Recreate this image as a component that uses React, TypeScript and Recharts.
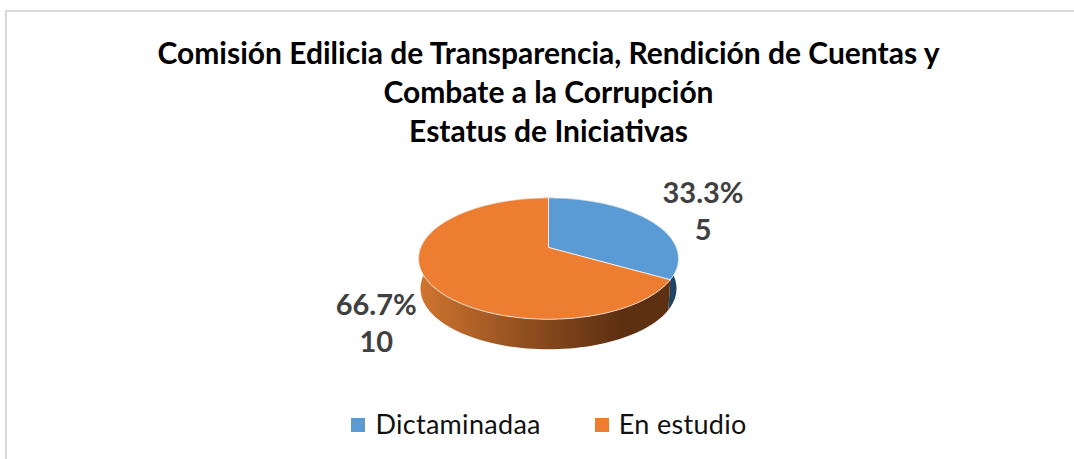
import { PieChart, Pie, Legend } from "recharts";

const categories = ["Dictaminadaa", "En estudio"];
const values = [5, 10];
const percentLabels = ["33.3%", "66.7%"];
const topColors = ["#5B9BD5", "#ED7D31"];
const wallFills = ["#1F4464", "url(#orangeWall)"];
const labelOffsets = [
    { dx: 0, dy: 5 },
    { dx: 35, dy: 22 },
];

const titleLines = [
    "Comisión Edilicia de Transparencia, Rendición de Cuentas y",
    "Combate a la Corrupción",
    "Estatus de Iniciativas",
];

const tableData = categories.map((name, i) => ({
    name,
    value: values[i],
    percentLabel: percentLabels[i],
    fill: topColors[i],
    wallFill: wallFills[i],
    labelOffset: labelOffsets[i],
}));

const FONT = "Lato, sans-serif";
const RADIAN = Math.PI / 180;
const WALL_DEPTH = 30;
const TILT = 58.7;
const PERSPECTIVE = 0.182;

// tilted disc: recharts angle -> screen point, apex stays at cx,cy
function project(cx: number, cy: number, radius: number, angle: number, factor = 1) {
    const u = Math.cos(angle * RADIAN) * factor;
    const v = -Math.sin(angle * RADIAN) * factor;
    const d = 1 - PERSPECTIVE * v;
    return { x: cx + (radius * u) / d, y: cy + (TILT * v) / d };
}

function edgePoints(cx: number, cy: number, radius: number, start: number, end: number) {
    const steps = Math.max(2, Math.ceil(Math.abs(end - start) / 2));
    const pts = [];
    for (let i = 0; i <= steps; i++) {
        pts.push(project(cx, cy, radius, start + ((end - start) * i) / steps));
    }
    return pts;
}

function TopSlice(props: any) {
    const { cx, cy, outerRadius, startAngle, endAngle, fill } = props;
    const pts = edgePoints(cx, cy, outerRadius, startAngle, endAngle);
    const d = `M${cx},${cy} ` + pts.map((p) => `L${p.x},${p.y}`).join(" ") + " Z";
    return <path d={d} fill={fill} stroke="#ffffff" strokeOpacity={0.7} strokeWidth={1} strokeLinejoin="round" />;
}

function WallSlice(props: any) {
    const { cx, cy, outerRadius, startAngle, endAngle, payload } = props;
    const pts = edgePoints(cx, cy, outerRadius, startAngle, endAngle);
    const lower = pts
        .slice()
        .reverse()
        .map((p) => ({ x: cx + (p.x - cx) * 0.985, y: p.y + WALL_DEPTH }));
    const d = "M" + pts.concat(lower).map((p) => `${p.x},${p.y}`).join(" L") + " Z";
    return <path d={d} fill={payload.wallFill} />;
}

function SliceLabel(props: any) {
    const { cx, cy, outerRadius, midAngle, payload } = props;
    const p = project(cx, cy, outerRadius, midAngle, 1.6);
    const x = p.x + payload.labelOffset.dx;
    const y = p.y + payload.labelOffset.dy;
    return (
        <text x={x} textAnchor="middle" fill="#404040" fontFamily={FONT} fontSize={29} fontWeight={700}>
            <tspan x={x} y={y - 9}>{payload.percentLabel}</tspan>
            <tspan x={x} y={y + 28}>{payload.value}</tspan>
        </text>
    );
}

export default function App() {
    return (
        <div style={{ position: "absolute", left: 0, top: 0, width: 1074, height: 459, background: "#fff", overflow: "hidden" }}>
            <style>{".recharts-default-legend svg { position: relative; top: -5px; }"}</style>
            <div style={{ position: "absolute", left: 5, top: 10, width: 1069, height: 449, borderTop: "2px solid #D9D9D9", borderLeft: "2px solid #D9D9D9" }} />
            <div style={{ position: "absolute", left: 0, top: 33, width: 1097, textAlign: "center", fontFamily: FONT, fontSize: 30, fontWeight: 700, lineHeight: "39px", color: "#000" }}>
                {titleLines.map((line) => (
                    <div key={line}>{line}</div>
                ))}
            </div>
            <PieChart width={1074} height={459} margin={{ top: 0, right: 0, bottom: 0, left: 0 }} style={{ position: "absolute", left: 0, top: 0 }}>
                <defs>
                    <linearGradient id="orangeWall" x1="0" y1="0" x2="1" y2="0">
                        <stop offset="0" stopColor="#D0752F" />
                        <stop offset="0.45" stopColor="#8C4C1E" />
                        <stop offset="0.8" stopColor="#5E3012" />
                        <stop offset="1" stopColor="#5E3012" />
                    </linearGradient>
                </defs>
                <Pie
                    data={tableData}
                    dataKey="value"
                    nameKey="name"
                    cx={548.5}
                    cy={247.5}
                    outerRadius={127.8}
                    startAngle={90}
                    endAngle={-270}
                    stroke="none"
                    legendType="none"
                    shape={WallSlice}
                    isAnimationActive={false}
                />
                <Pie
                    data={tableData}
                    dataKey="value"
                    nameKey="name"
                    cx={548.5}
                    cy={247.5}
                    outerRadius={127.8}
                    startAngle={90}
                    endAngle={-270}
                    shape={TopSlice}
                    label={SliceLabel}
                    labelLine={false}
                    isAnimationActive={false}
                />
                <Legend
                    layout="horizontal"
                    align="center"
                    verticalAlign="bottom"
                    iconType="square"
                    iconSize={14}
                    formatter={(value) => (
                        <span style={{ color: "#111", fontFamily: FONT, fontSize: 27, marginLeft: 6, marginRight: 44, letterSpacing: 0.3 }}>{value}</span>
                    )}
                    wrapperStyle={{ bottom: 19, left: 39 }}
                />
            </PieChart>
        </div>
    );
}
